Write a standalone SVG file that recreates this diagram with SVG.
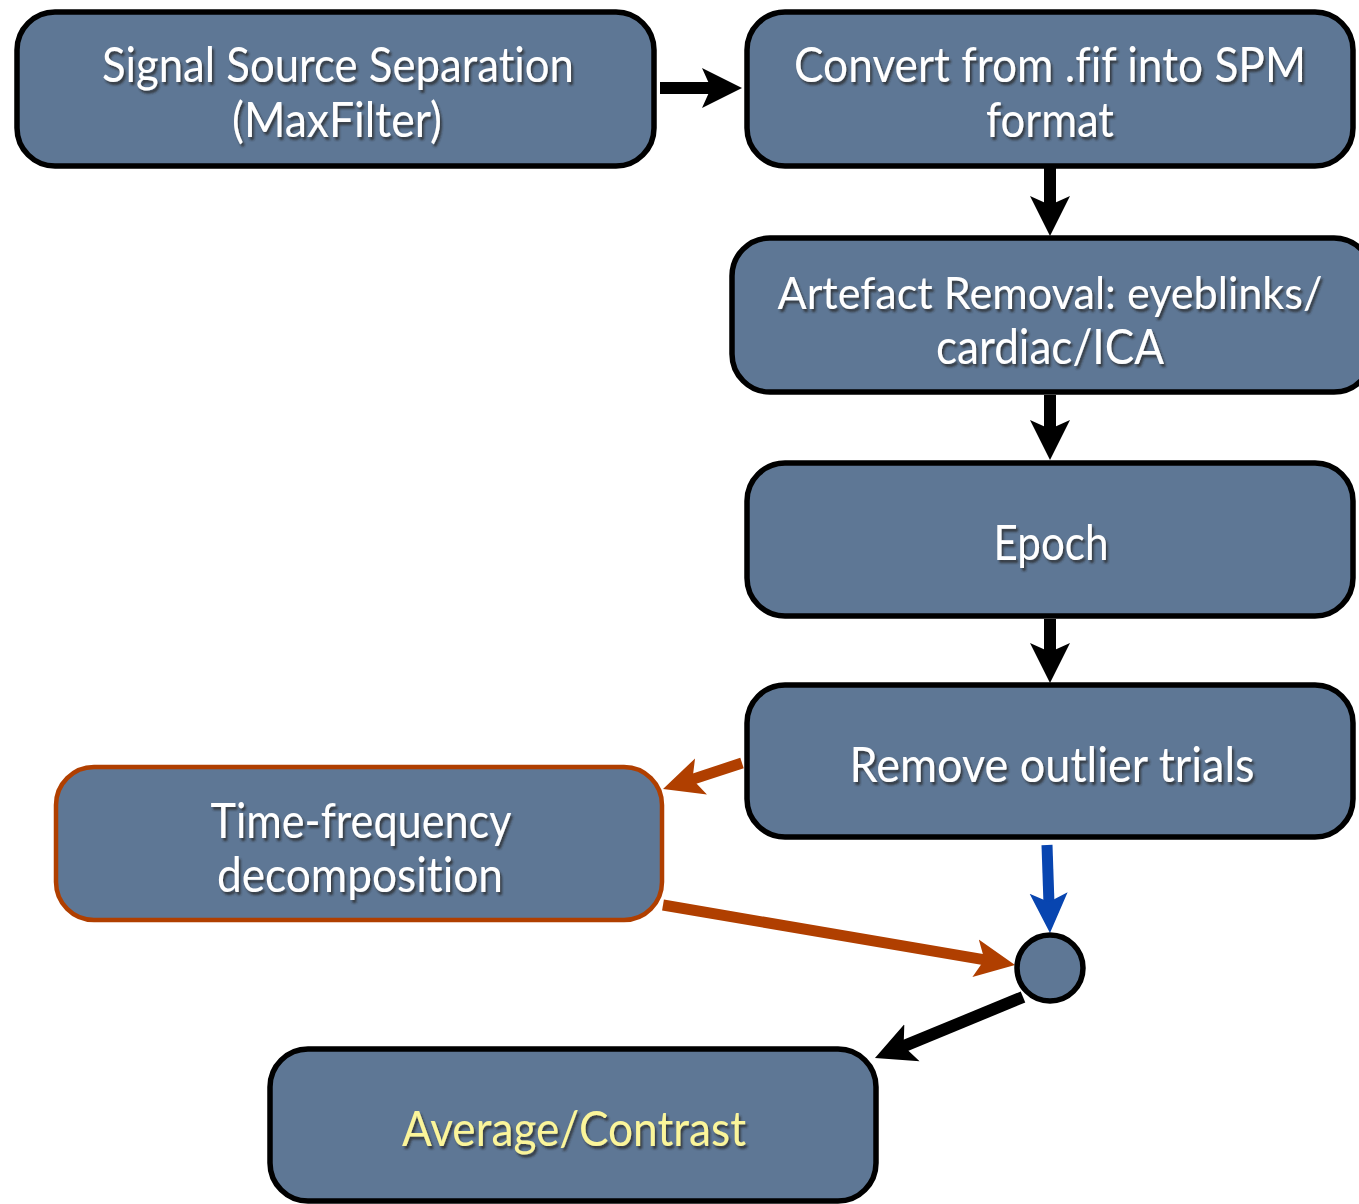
<svg xmlns="http://www.w3.org/2000/svg" width="1359" height="1204" viewBox="0 0 1359 1204">
<defs>
<style>
.box{fill:#5e7795;stroke:#000;stroke-width:5.5}
.box.tf{stroke:#b03f00;stroke-width:4.5}
.lbl{font-family:"Lato","Liberation Sans",sans-serif;font-size:49px;fill:#fff;text-anchor:middle;font-variant-ligatures:none;filter:url(#sh)}
.lbl.y{fill:#fbf59a}
.lbl.s{font-size:45px}
.c{fill:none;stroke-linecap:butt}
.k{stroke:#000;stroke-width:12}
.o{stroke:#b03f00;stroke-width:11}
.b{stroke:#0845b0;stroke-width:11}
</style>
<filter id="sh" x="-2%" y="-20%" width="104%" height="140%">
<feDropShadow dx="2" dy="3" stdDeviation="1.2" flood-color="#2a2a2a" flood-opacity="0.75"/>
</filter>
<marker id="ak" markerUnits="userSpaceOnUse" markerWidth="42" markerHeight="44" viewBox="0 -22 42 44" refX="14" refY="0" orient="auto"><path d="M40,0 L0,-20 L9,0 L0,20 Z" fill="#000"/></marker>
<marker id="ao" markerUnits="userSpaceOnUse" markerWidth="42" markerHeight="44" viewBox="0 -22 42 44" refX="14" refY="0" orient="auto"><path d="M40,0 L0,-19 L9,0 L0,19 Z" fill="#b03f00"/></marker>
<marker id="ab" markerUnits="userSpaceOnUse" markerWidth="42" markerHeight="44" viewBox="0 -22 42 44" refX="14" refY="0" orient="auto"><path d="M40,0 L0,-19 L9,0 L0,19 Z" fill="#0845b0"/></marker>
</defs>
<rect width="1359" height="1204" fill="#fff"/>
<g id="connectors">
<line class="c k" x1="660" y1="88" x2="716" y2="88" marker-end="url(#ak)"/>
<line class="c k" x1="1050" y1="168" x2="1050" y2="210" marker-end="url(#ak)"/>
<line class="c k" x1="1050" y1="395" x2="1050" y2="434" marker-end="url(#ak)"/>
<line class="c k" x1="1050" y1="619" x2="1050" y2="657" marker-end="url(#ak)"/>
<line class="c o" x1="742" y1="763" x2="687.7" y2="780.9" marker-end="url(#ao)"/>
<line class="c b" x1="1047" y1="845" x2="1049.1" y2="907" marker-end="url(#ab)"/>
<line class="c o" x1="663" y1="905" x2="989.4" y2="960.6" marker-end="url(#ao)"/>
<line class="c k" x1="1023" y1="997" x2="899" y2="1048.1" marker-end="url(#ak)"/>
</g>
<g id="n1"><rect class="box" x="17" y="12" width="637" height="154" rx="38"/>
<text class="lbl" x="338" y="82" textLength="472" lengthAdjust="spacingAndGlyphs">Signal Source Separation</text>
<text class="lbl" x="337" y="137" textLength="210" lengthAdjust="spacingAndGlyphs">(MaxFilter)</text></g>
<g id="n2"><rect class="box" x="747" y="12" width="606" height="154" rx="38"/>
<text class="lbl" x="1050" y="82" textLength="512" lengthAdjust="spacingAndGlyphs">Convert from .fif into SPM</text>
<text class="lbl" x="1050" y="137" textLength="128" lengthAdjust="spacingAndGlyphs">format</text></g>
<g id="n3"><rect class="box" x="732" y="238" width="640" height="154" rx="38"/>
<text class="lbl s" x="1050" y="309" textLength="545" lengthAdjust="spacingAndGlyphs">Artefact Removal: eyeblinks/</text>
<text class="lbl" x="1050" y="364" textLength="228" lengthAdjust="spacingAndGlyphs">cardiac/ICA</text></g>
<g id="n4"><rect class="box" x="747" y="463" width="606" height="153" rx="38"/>
<text class="lbl" x="1051" y="560" textLength="115" lengthAdjust="spacingAndGlyphs">Epoch</text></g>
<g id="n5"><rect class="box" x="747" y="685" width="606" height="152" rx="38"/>
<text class="lbl" x="1052" y="782" textLength="405" lengthAdjust="spacingAndGlyphs">Remove outlier trials</text></g>
<g id="n6"><rect class="box tf" x="56" y="767" width="606" height="153" rx="38"/>
<text class="lbl" x="361" y="838" textLength="301" lengthAdjust="spacingAndGlyphs">Time-frequency</text>
<text class="lbl" x="360" y="892" textLength="286" lengthAdjust="spacingAndGlyphs">decomposition</text></g>
<g id="n7"><ellipse class="box" cx="1050" cy="968" rx="33" ry="33"/></g>
<g id="n8"><rect class="box" x="270" y="1049" width="606" height="152" rx="38"/>
<text class="lbl y" x="574" y="1146" textLength="344" lengthAdjust="spacingAndGlyphs">Average/Contrast</text></g>
</svg>
